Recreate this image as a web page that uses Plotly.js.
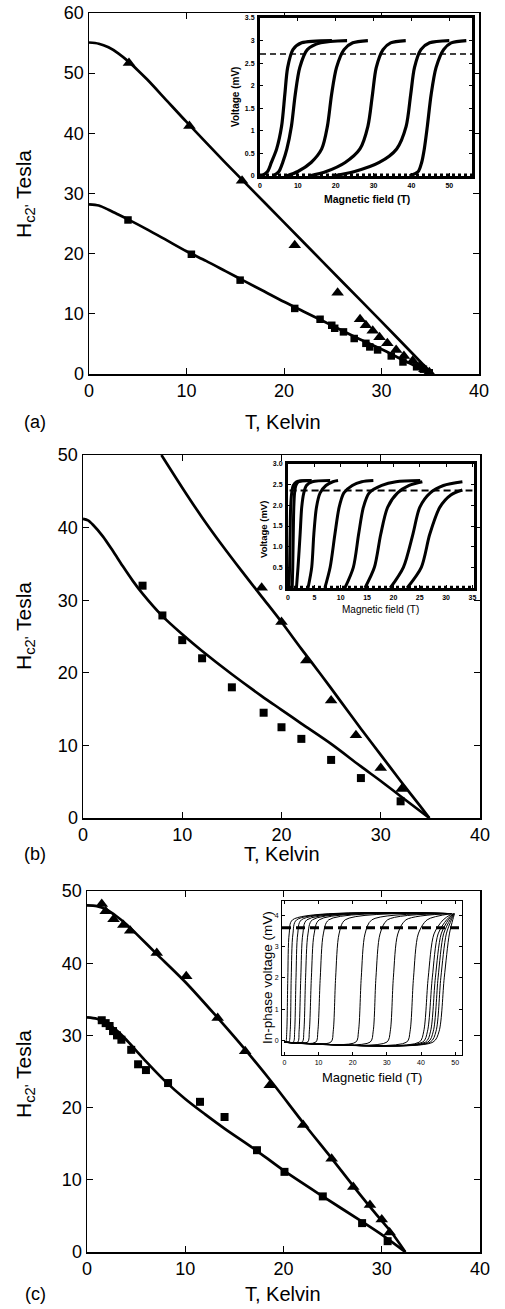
<!DOCTYPE html>
<html><head><meta charset="utf-8">
<script src="https://cdn.plot.ly/plotly-3.0.1.min.js"></script>
<style>html,body{margin:0;padding:0;background:#fff}#chart{width:505px;height:1309px}</style>
</head><body><div id="chart"></div>
<script>
// ---------- Panel (a) ----------
const aTriT = [4.1, 10.3, 15.7, 21.1, 25.5, 27.8, 28.4, 29.1, 29.8, 30.6, 31.5, 32.3, 33.2, 33.9, 34.4, 34.9];
const aTriH = [51.7, 41.2, 32.1, 21.4, 13.5, 9.1, 8.1, 7.2, 6.1, 5.1, 4.0, 3.0, 2.2, 1.3, 0.8, 0.3];
const aSqT = [4.0, 10.5, 15.5, 21.1, 23.7, 24.9, 25.2, 26.1, 27.2, 28.4, 28.8, 29.6, 31.0, 32.2, 33.6, 34.3, 34.9];
const aSqH = [25.6, 19.9, 15.6, 10.9, 9.1, 8.1, 7.6, 7.0, 5.9, 5.1, 4.5, 4.0, 3.0, 2.0, 1.2, 0.8, 0.2];
const aFitUpT = [0, 1, 2, 3, 4, 5, 6, 8, 10, 14, 18, 22, 26, 30, 33, 35.2];
const aFitUpH = [55.1, 54.9, 54.3, 53.3, 52.0, 50.5, 48.9, 45.4, 41.9, 35.1, 28.5, 21.9, 15.3, 8.7, 3.7, 0];
const aFitLoT = [0, 1, 2, 3, 4, 6, 8, 10, 12, 14, 16, 18, 20, 22, 24, 26, 28, 30, 32, 34, 35.2];
const aFitLoH = [28.2, 28.0, 27.3, 26.5, 25.7, 24.0, 22.2, 20.4, 18.8, 17.1, 15.4, 13.7, 12.0, 10.4, 8.8, 7.2, 5.6, 4.1, 2.5, 0.9, 0];
// inset (a): field at which each curve crosses each voltage level
const insetA_levels = [0, 0.1, 0.3, 0.6, 1.1, 1.8, 2.4, 2.8, 2.95, 3.0];
const insetA_fields = [
  [0.5, 2.0, 3.0, 4.4, 5.7, 6.55, 7.3, 8.7, 11, 19],
  [3.5, 5.0, 6.0, 7.1, 8.3, 9.3, 10.5, 12.5, 16, 23],
  [7, 10, 13.5, 16.3, 17.8, 18.9, 20.2, 22.2, 24.5, 28.5],
  [13, 17.5, 22.5, 26.4, 28.5, 29.7, 30.7, 32.5, 34.5, 38.5],
  [19, 25, 31.5, 36.1, 38.6, 39.8, 40.8, 42.5, 44.8, 50],
  [39.5, 41.8, 42.7, 43.4, 44.2, 45.2, 46.5, 48.5, 50.5, 54.5]
];
const insetA_baseT = [0, 56], insetA_baseV = [0.02, 0.02];
const insetA_dashT = [0, 56], insetA_dashV = [2.7, 2.7];

// ---------- Panel (b) ----------
const bSqT = [6, 8, 10, 12, 15, 18.2, 20, 22, 25, 28, 32];
const bSqH = [32.0, 27.9, 24.5, 22.0, 18.0, 14.5, 12.5, 10.9, 8.0, 5.5, 2.3];
const bTriT = [18.0, 20.0, 22.5, 25.0, 27.5, 30.0, 32.1];
const bTriH = [31.7, 27.0, 21.7, 16.2, 11.4, 6.9, 4.0];
const bFitUpT = [7.9, 10, 12, 14, 16, 18, 20, 22, 24, 26, 28, 30, 32, 34, 34.9];
const bFitUpH = [50, 45.5, 41.4, 37.6, 34.0, 30.5, 27.0, 23.3, 19.7, 16.0, 12.3, 8.7, 5.1, 1.6, 0];
const bFitLoT = [0, 0.5, 1, 2, 3, 4, 5, 6, 8, 10, 12, 15, 18, 20, 22, 25, 28, 30, 32, 34.9];
const bFitLoH = [41.2, 41.0, 40.4, 38.8, 36.8, 34.7, 32.7, 30.9, 27.8, 25.3, 23.0, 19.8, 16.8, 14.9, 13.0, 10.2, 7.1, 5.1, 3.0, 0];
const insetB_T = [
  [0.2, 0.3, 0.4, 0.5, 0.7, 1.0, 1.6, 4.5],
  [0.8, 0.9, 1.0, 1.1, 1.25, 1.5, 2.0, 4.2],
  [1.6, 1.9, 2.3, 2.6, 3.0, 3.5, 4.6, 8.0],
  [3.8, 4.5, 4.9, 5.4, 6.1, 7.2, 8.5, 9.5],
  [7.0, 8.0, 8.9, 9.7, 10.6, 12.2, 14.0, 16.2],
  [10.8, 12.4, 13.4, 14.3, 15.4, 17.8, 20.5, 25.1],
  [14.6, 16.4, 17.6, 18.9, 20.8, 23.0, 25.5],
  [19.4, 21.9, 23.7, 25.0, 27.0, 29.5, 33.1],
  [22.6, 25.3, 26.9, 28.8, 30.9, 33.1]
];
const insetB_V = [
  [0, 0.5, 1.3, 1.95, 2.3, 2.48, 2.57, 2.6],
  [0, 0.5, 1.3, 1.95, 2.3, 2.48, 2.57, 2.6],
  [0, 0.5, 1.3, 1.95, 2.3, 2.48, 2.57, 2.6],
  [0, 0.5, 1.3, 1.95, 2.3, 2.48, 2.57, 2.6],
  [0, 0.5, 1.3, 1.95, 2.3, 2.48, 2.57, 2.6],
  [0, 0.5, 1.3, 1.95, 2.3, 2.48, 2.57, 2.6],
  [0, 0.5, 1.3, 1.95, 2.3, 2.48, 2.57],
  [0, 0.5, 1.3, 1.95, 2.3, 2.48, 2.57],
  [0, 0.5, 1.3, 1.95, 2.25, 2.37]
];
const insetB_baseT = [0, 35.3], insetB_baseV = [0.02, 0.02];
const insetB_dashT = [0.3, 35], insetB_dashV = [2.36, 2.36];

// ---------- Panel (c) ----------
const cTriT = [1.5, 1.9, 2.7, 3.7, 4.4, 7.1, 10.1, 13.3, 16.1, 18.6, 22.0, 24.9, 27.1, 28.8, 30.0, 30.8];
const cTriH = [48.2, 47.2, 46.1, 45.3, 44.5, 41.4, 38.2, 32.4, 27.8, 23.1, 17.6, 12.9, 9.0, 6.5, 4.5, 2.7];
const cSqT = [1.5, 1.9, 2.3, 2.65, 3.05, 3.5, 4.5, 5.2, 6.0, 8.25, 11.5, 14.0, 17.3, 20.1, 24.0, 28.0, 30.6];
const cSqH = [32.1, 31.7, 31.3, 30.6, 30.0, 29.4, 28.0, 26.0, 25.2, 23.4, 20.8, 18.7, 14.1, 11.1, 7.7, 4.0, 1.5];
const cFitUpT = [0, 1, 2, 3, 4, 5, 7, 10, 13, 16, 19, 22, 25, 28, 30, 31, 32.4];
const cFitUpH = [48.0, 47.9, 47.4, 46.5, 45.4, 44.1, 41.4, 37.4, 32.9, 28.2, 23.2, 17.9, 12.8, 7.6, 4.3, 2.7, 0];
const cFitLoT = [0, 1, 2, 3, 4, 5, 6, 8, 10, 12, 14, 17, 20, 24, 28, 30, 32.4];
const cFitLoH = [32.5, 32.3, 31.7, 30.7, 29.4, 27.9, 26.4, 23.6, 21.2, 19.1, 17.1, 14.3, 11.3, 7.7, 4.2, 2.4, 0];
const insetC_levels = [-0.05, -0.05, 0.3, 2.0, 3.4, 3.85, 4.05];
const insetC_fields = [
  [0, 0.4, 0.7, 1.0, 1.4, 2.4, 48.5],
  [0, 1.3, 1.7, 2.0, 2.5, 3.6, 48.5],
  [0, 2.6, 3.0, 3.4, 3.9, 5.0, 48.5],
  [0, 3.9, 4.3, 4.8, 5.4, 6.6, 48.5],
  [0, 5.2, 5.7, 6.2, 6.9, 8.2, 48.5],
  [0, 6.8, 7.3, 7.9, 8.7, 10.2, 48.5],
  [0, 9.2, 9.8, 10.5, 11.4, 13.0, 48.5],
  [0, 13.6, 14.3, 15.0, 16.0, 17.8, 48.5],
  [0, 20.9, 21.7, 22.5, 23.6, 25.6, 48.5],
  [0, 25.1, 26.0, 26.8, 28.0, 30.2, 48.8],
  [0, 30.0, 31.0, 31.9, 33.2, 35.6, 49],
  [0, 35.8, 36.8, 37.8, 39.2, 41.8, 49],
  [0, 39.5, 40.8, 42.1, 43.8, 46.5, 49.2],
  [0, 40.5, 41.9, 43.3, 45.0, 47.5, 49.5],
  [0, 41.3, 42.8, 44.2, 45.9, 48.0, 49.5],
  [0, 42.0, 43.6, 45.0, 46.6, 48.5, 49.6],
  [0, 42.7, 44.4, 45.8, 47.4, 48.9, 49.7],
  [0, 43.5, 45.3, 46.8, 48.3, 49.3, 49.8]
];
const insetC_dashT = [-0.7, 52], insetC_dashV = [3.6, 3.6];

// ---------- build ----------
const W = 505, H = 1309;
const FONT = 'Liberation Sans, Arial, Helvetica, sans-serif';
const traces = [];
function line(x, y, xa, ya, w, extra) {
  traces.push(Object.assign({x, y, xaxis: xa, yaxis: ya, mode: 'lines', hoverinfo: 'skip',
    line: {color: '#000', width: w, shape: 'spline', smoothing: 0.8}}, extra || {}));
}
function pts(x, y, xa, ya, sym, size) {
  traces.push({x, y, xaxis: xa, yaxis: ya, mode: 'markers', hoverinfo: 'skip',
    marker: {symbol: sym, size: size, color: '#000', line: {width: 0}}});
}
// panel a
line(aFitUpT, aFitUpH, 'x', 'y', 2.7);
line(aFitLoT, aFitLoH, 'x', 'y', 2.7);
pts(aTriT, aTriH, 'x', 'y', 'triangle-up', 11);
pts(aSqT, aSqH, 'x', 'y', 'square', 7.5);
line(insetA_baseT, insetA_baseV, 'x2', 'y2', 3, {line: {color: '#000', width: 3, dash: 'dot'}});
insetA_fields.forEach(f => line(f, insetA_levels, 'x2', 'y2', 3.2));
line(insetA_dashT, insetA_dashV, 'x2', 'y2', 1.5, {line: {color: '#000', width: 1.5, dash: '6px,4px'}});
// panel b
line(bFitUpT, bFitUpH, 'x3', 'y3', 2.7);
line(bFitLoT, bFitLoH, 'x3', 'y3', 2.7);
pts(bSqT, bSqH, 'x3', 'y3', 'square', 8);
pts(bTriT, bTriH, 'x3', 'y3', 'triangle-up', 11);
line(insetB_baseT, insetB_baseV, 'x4', 'y4', 3, {line: {color: '#000', width: 3, dash: 'dot'}});
insetB_T.forEach((t, i) => line(t, insetB_V[i], 'x4', 'y4', 3));
line(insetB_dashT, insetB_dashV, 'x4', 'y4', 2, {line: {color: '#000', width: 2, dash: '7px,4px'}});
// panel c
line(cFitUpT, cFitUpH, 'x5', 'y5', 2.7);
line(cFitLoT, cFitLoH, 'x5', 'y5', 2.7);
pts(cTriT, cTriH, 'x5', 'y5', 'triangle-up', 11);
pts(cSqT, cSqH, 'x5', 'y5', 'square', 8);
insetC_fields.forEach(f => line(f, insetC_levels, 'x6', 'y6', 1));
line(insetC_dashT, insetC_dashV, 'x6', 'y6', 3, {line: {color: '#000', width: 3, dash: '9px,5px'}});

function dx(a, b) { return [a / W, b / W]; }
function dy(top, bot) { return [1 - bot / H, 1 - top / H]; }
function mainAx(domain, range, anchor, dt) {
  return {domain, range, anchor, dtick: dt, tick0: 0, showline: true, linewidth: 1.5, linecolor: '#000',
    mirror: 'ticks', ticks: 'inside', ticklen: 6, tickwidth: 1, tickcolor: '#000', showgrid: false,
    zeroline: false, tickfont: {family: FONT, size: 18, color: '#000'}, fixedrange: true};
}
function insAx(domain, range, anchor, vals, text, lw, fs, bold) {
  return {domain, range, anchor, tickvals: vals, ticktext: text, showline: true, linewidth: lw,
    linecolor: '#000', mirror: 'ticks', ticks: 'inside', ticklen: 3, tickwidth: 1, tickcolor: '#000',
    showgrid: false, zeroline: false, ticklabelstandoff: 1,
    tickfont: {family: FONT, size: fs, color: '#000', weight: bold ? 'bold' : 'normal'}, fixedrange: true};
}
const ann = [];
function txt(t, x, y, size, opts) {
  ann.push(Object.assign({text: t, x: x / W, y: 1 - y / H, xref: 'paper', yref: 'paper', showarrow: false,
    xanchor: 'center', yanchor: 'middle', font: {family: FONT, size: size, color: '#000'}}, opts || {}));
}
const ytitle = 'H<sub>c2\'</sub> Tesla';
txt('(a)', 35, 422, 18); txt('T, Kelvin', 283, 422, 20); txt(ytitle, 25, 194, 21, {textangle: -90});
txt('(b)', 35, 854, 18); txt('T, Kelvin', 282, 854, 20); txt(ytitle, 25, 626, 21, {textangle: -90});
txt('(c)', 35, 1294, 18); txt('T, Kelvin', 283, 1294, 20); txt(ytitle, 25, 1074, 21, {textangle: -90});
txt('Voltage (mV)', 236, 97, 10, {textangle: -90, font: {family: FONT, size: 10, color: '#000', weight: 'bold'}});
txt('Magnetic field (T)', 367, 199, 10.5, {font: {family: FONT, size: 10.5, color: '#000', weight: 'bold'}});
txt('Voltage (mV)', 263, 530, 9.5, {textangle: -90, font: {family: FONT, size: 9.5, color: '#000', weight: 'bold'}});
txt('Magnetic field (T)', 380, 609, 10);
txt('In-phase voltage (mV)', 267, 978, 13.5, {textangle: -90});
txt('Magnetic field (T)', 372, 1077, 13);

const layout = {
  width: W, height: H, margin: {l: 0, r: 0, t: 0, b: 0}, showlegend: false,
  paper_bgcolor: '#fff', plot_bgcolor: '#fff', font: {family: FONT, color: '#000'},
  xaxis: mainAx(dx(89, 479), [0, 40], 'y', 10),
  yaxis: mainAx(dy(13, 374), [0, 60], 'x', 10),
  xaxis2: insAx(dx(260, 472), [0, 56], 'y2', [0, 10, 20, 30, 40, 50], ['0', '10', '20', '30', '40', '50'], 3, 7, true),
  yaxis2: insAx(dy(18, 176), [0, 3.5], 'x2', [0, 0.5, 1, 1.5, 2, 2.5, 3, 3.5], ['0', '0.5', '1', '1.5', '2', '2.5', '3', '3.5'], 3, 7, true),
  xaxis3: mainAx(dx(83, 480), [0, 40], 'y3', 10),
  yaxis3: mainAx(dy(455, 818), [0, 50], 'x3', 10),
  xaxis4: insAx(dx(288, 474), [0, 35.3], 'y4', [0, 5, 10, 15, 20, 25, 30, 35], ['0', '5', '10', '15', '20', '25', '30', '35'], 3, 7, true),
  yaxis4: insAx(dy(464, 588), [0, 3], 'x4', [0, 0.5, 1, 1.5, 2, 2.5, 3], ['0', '0.5', '1.0', '1.5', '2.0', '2.5', '3.0'], 3, 7, true),
  xaxis5: mainAx(dx(87, 480), [0, 40], 'y5', 10),
  yaxis5: mainAx(dy(891, 1252), [0, 50], 'x5', 10),
  xaxis6: insAx(dx(282, 462), [-0.7, 52], 'y6', [0, 10, 20, 30, 40, 50], ['0', '10', '20', '30', '40', '50'], 1, 7, false),
  yaxis6: insAx(dy(901, 1055), [-0.46, 4.45], 'x6', [0, 1, 2, 3, 4], ['0', '1', '2', '3', '4'], 1, 7, false),
  annotations: ann
};
Plotly.newPlot('chart', traces, layout, {staticPlot: true, displayModeBar: false});
</script></body></html>
